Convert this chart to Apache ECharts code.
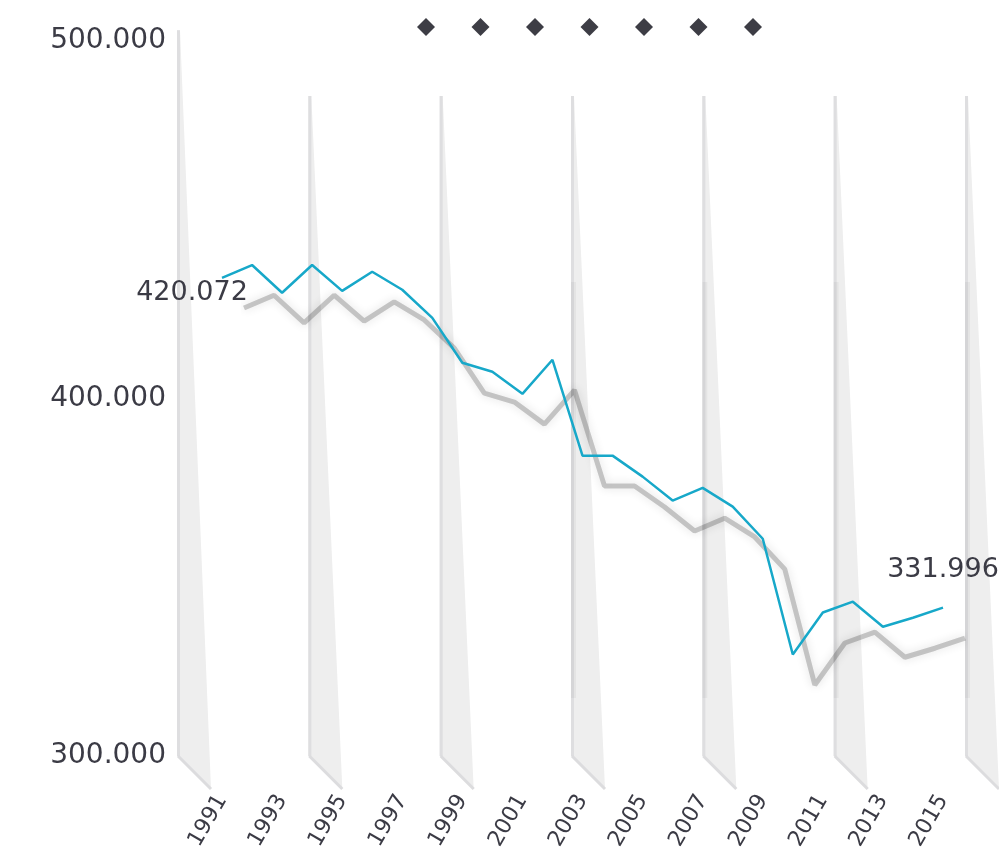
<!DOCTYPE html>
<html>
<head>
<meta charset="utf-8">
<title>chart</title>
<script src="https://cdn.jsdelivr.net/npm/echarts@6/dist/echarts.min.js"></script>
<style>
  html, body { margin: 0; padding: 0; background: #fff; }
  #main { width: 999px; height: 853px; }
</style>
</head>
<body>
<div id="main"></div>
<script>
  var years = ['1991','1992','1993','1994','1995','1996','1997','1998','1999','2000','2001','2002','2003',
    '2004','2005','2006','2007','2008','2009','2010','2011','2012','2013','2014','2015'];
  var values = [420.072, 423.5, 416.1, 423.5, 416.6, 421.7, 416.9, 409.4, 397.4, 395.0, 389.1, 398.2, 372.6,
    372.6, 367.0, 360.6, 364.0, 359.0, 350.4, 319.5, 330.7, 333.6, 326.9, 329.3, 331.996];
  var yTicks = [300, 400, 500];

  // the seven grey wedges in the background
  var wedgeNames = ['w1', 'w2', 'w3', 'w4', 'w5', 'w6', 'w7'];
  var wedgeTops = [503, 484.6, 484.6, 484.6, 484.6, 484.6, 484.6];
  var wedgeBandHi = [null, null, null, 432.6, 432.6, 432.6, 432.6];
  var wedgeBandLo = [null, null, null, 316.2, 316.2, 316.2, 316.2];

  var textColor = '#3b3b45';
  var font = 'DejaVu Sans';

  var chart = echarts.init(document.getElementById('main'));

  function renderWedge(params, api) {
    var top = api.coord([api.value(0), api.value(1)]);
    var base = api.coord([api.value(0), yTicks[0]]);
    var x = top[0], y0 = top[1], y1 = base[1];
    var kids = [
      { type: 'polygon', shape: { points: [[x, y0], [x + 3, y0], [x + 34, y1 + 33], [x, y1]] },
        style: { fill: '#eeeeee' } },
      { type: 'rect', shape: { x: x, y: y0, width: 3, height: y1 - y0 }, style: { fill: '#dedee0' } },
      { type: 'line', shape: { x1: x + 1, y1: y1, x2: x + 34, y2: y1 + 33 },
        style: { stroke: '#dcdcde', lineWidth: 3 } }
    ];
    if (api.value(2) != null && !isNaN(api.value(2))) {
      var hi = api.coord([api.value(0), api.value(2)]);
      var lo = api.coord([api.value(0), api.value(3)]);
      kids.push({ type: 'rect', shape: { x: x, y: hi[1], width: 5, height: lo[1] - hi[1] },
        style: { fill: 'rgba(0,0,0,0.04)' } });
    }
    return { type: 'group', children: kids };
  }

  var wedgeSeries = wedgeNames.map(function (n, i) {
    return {
      name: n,
      type: 'custom',
      xAxisIndex: 0,
      yAxisIndex: 0,
      z: 1,
      silent: true,
      renderItem: renderWedge,
      data: [[i, wedgeTops[i], wedgeBandHi[i], wedgeBandLo[i]]]
    };
  });

  var lineData = values.map(function (v, i) {
    if (i === 0) {
      return { value: v, label: { show: true, position: 'bottom', distance: 2, offset: [-30, 0] } };
    }
    if (i === values.length - 1) {
      return { value: v, label: { show: true, position: 'top', distance: 24 } };
    }
    return v;
  });

  var option = {
    animation: false,
    legend: {
      data: wedgeNames,
      left: 412,
      top: 13,
      icon: 'diamond',
      itemWidth: 18,
      itemHeight: 18,
      itemGap: 36.5,
      itemStyle: { color: '#3d3d45' },
      formatter: function () { return ''; }
    },
    grid: [
      { left: 177, right: 34, top: 41, bottom: 97 },
      { left: 222, right: 56, top: 31, bottom: 65 },
      { left: 244, right: 34, top: 61, bottom: 35 }
    ],
    xAxis: [
      { gridIndex: 0, type: 'value', min: 0, max: 6, show: false },
      {
        gridIndex: 1, type: 'category', data: years, boundaryGap: false,
        axisLine: { show: false }, axisTick: { show: false }, splitLine: { show: false },
        axisLabel: { interval: 1, rotate: 60, margin: 9, color: textColor, fontSize: 22, fontFamily: font }
      },
      { gridIndex: 2, type: 'category', data: years, boundaryGap: false, show: false }
    ],
    yAxis: [
      {
        gridIndex: 0, type: 'value', min: yTicks[0], max: yTicks[yTicks.length - 1], interval: 100,
        axisLine: { show: false }, axisTick: { show: false }, splitLine: { show: false },
        axisLabel: {
          margin: 11, color: textColor, fontSize: 28, fontFamily: font,
          formatter: function (v) { return v.toFixed(3); }
        }
      },
      { gridIndex: 1, type: 'value', min: 284, max: 486, show: false },
      { gridIndex: 2, type: 'value', min: 284, max: 486, show: false }
    ],
    series: wedgeSeries.concat([
      {
        name: 'shadow',
        type: 'line',
        xAxisIndex: 2,
        yAxisIndex: 2,
        z: 2,
        silent: true,
        data: values,
        showSymbol: false,
        lineStyle: {
          width: 5, color: 'rgba(0,0,0,0.2)',
          shadowBlur: 10, shadowColor: 'rgba(0,0,0,0.6)'
        }
      },
      {
        name: 'value',
        type: 'line',
        xAxisIndex: 1,
        yAxisIndex: 1,
        z: 3,
        data: lineData,
        showSymbol: true,
        symbol: 'circle',
        symbolSize: 0,
        itemStyle: { color: '#17a8c9' },
        lineStyle: { width: 2.5, color: '#17a8c9' },
        label: {
          color: textColor, fontSize: 27, fontFamily: font,
          formatter: function (p) { return p.value.toFixed(3); }
        }
      }
    ])
  };

  chart.setOption(option);
</script>
</body>
</html>
